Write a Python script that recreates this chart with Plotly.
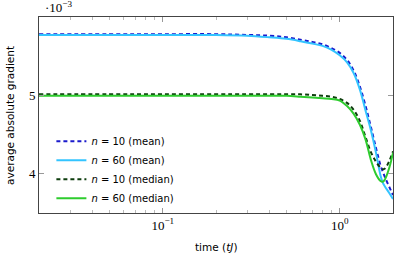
import plotly.graph_objects as go

# time (tJ)
time = [0.02, 0.05, 0.1, 0.2, 0.3, 0.4, 0.5, 0.6, 0.7, 0.8, 0.9, 1.0, 1.1, 1.2,
        1.3, 1.4, 1.5, 1.6, 1.7, 1.75, 1.8, 1.9, 2.0]
# values in units of 1e-3
mean_n10 = [5.78, 5.78, 5.78, 5.78, 5.77, 5.76, 5.74, 5.71, 5.68, 5.65, 5.60, 5.54, 5.45, 5.31,
            5.11, 4.86, 4.59, 4.33, 4.10, 4.02, 3.95, 3.83, 3.72]
mean_n60 = [5.77, 5.77, 5.77, 5.77, 5.76, 5.74, 5.72, 5.69, 5.66, 5.63, 5.58, 5.51, 5.42, 5.28,
            5.07, 4.80, 4.55, 4.27, 3.97, 3.88, 3.83, 3.75, 3.67]
median_n10 = [5.01, 5.01, 5.01, 5.01, 5.01, 5.01, 5.01, 5.01, 5.00, 4.99, 4.98, 4.95, 4.90, 4.81,
              4.67, 4.46, 4.27, 4.15, 4.07, 4.05, 4.06, 4.15, 4.28]
median_n60 = [4.99, 4.99, 4.99, 4.99, 4.99, 4.99, 4.99, 4.98, 4.97, 4.96, 4.95, 4.93, 4.86, 4.76,
              4.62, 4.43, 4.17, 3.99, 3.90, 3.89, 3.92, 4.06, 4.26]

labels = ["<i>n</i> = 10 (mean)", "<i>n</i> = 60 (mean)",
          "<i>n</i> = 10 (median)", "<i>n</i> = 60 (median)"]
series = [mean_n10, mean_n60, median_n10, median_n60]
colors = ["#1a1acc", "#33c4ff", "#0d3d0d", "#2ecc2e"]
dashes = ["4px,3px", "solid", "4px,3px", "solid"]

x_major = [0.1, 1]
x_major_text = ["10<sup>−1</sup>", "10<sup>0</sup>"]
x_minor = [0.02, 0.03, 0.04, 0.05, 0.06, 0.07, 0.08, 0.09,
           0.2, 0.3, 0.4, 0.5, 0.6, 0.7, 0.8, 0.9, 2]
y_major = [4, 5]

SANS = "DejaVu Sans"
SERIF = "Liberation Serif"

fig = go.Figure()
for s, lab, c, d in zip(series, labels, colors, dashes):
    fig.add_trace(go.Scatter(x=time, y=s, name=lab, mode="lines",
                             line=dict(color=c, width=2, dash=d, shape="spline")))

fig.update_layout(
    width=394, height=258,
    margin=dict(l=39, r=1, t=17, b=45),
    paper_bgcolor="white", plot_bgcolor="white",
    font=dict(family=SANS, size=10, color="black"),
    legend=dict(x=0.035, y=0.44, xanchor="left", yanchor="top",
                bgcolor="rgba(255,255,255,0)", font=dict(family=SANS, size=10),
                tracegroupgap=0),
    xaxis=dict(type="log", range=[-1.699, 0.301], automargin=False,
               tickvals=x_major, ticktext=x_major_text,
               ticks="inside", ticklen=5, tickcolor="#999",
               minor=dict(tickvals=x_minor, ticks="inside", ticklen=3, tickcolor="#bbb"),
               showline=True, linecolor="#444", linewidth=1, mirror="ticks",
               showgrid=False, zeroline=False,
               tickfont=dict(family=SERIF, size=13)),
    yaxis=dict(range=[3.49, 6.0], tickvals=y_major, automargin=False,
               ticks="inside", ticklen=5, tickcolor="#999",
               showline=True, linecolor="#444", linewidth=1, mirror="ticks",
               showgrid=False, zeroline=False,
               tickfont=dict(family=SERIF, size=13)),
    annotations=[
        dict(text="·10<sup>−3</sup>", xref="paper", yref="paper",
             x=0.011, y=1.0, xanchor="left", yanchor="bottom",
             showarrow=False, font=dict(family=SERIF, size=13)),
        dict(text="average absolute gradient", xref="paper", yref="paper",
             x=-0.082, y=0.5, xanchor="center", yanchor="middle", textangle=-90,
             showarrow=False, font=dict(family=SANS, size=10.5)),
        dict(text="time (<i>tJ</i>)", xref="paper", yref="paper",
             x=0.5, y=-0.173, xanchor="center", yanchor="middle",
             showarrow=False, font=dict(family=SANS, size=10.5)),
    ],
)

fig.write_html("out.html", config={"displayModeBar": False},
               post_script="document.body.style.margin='0px';document.body.style.overflow='hidden';")
